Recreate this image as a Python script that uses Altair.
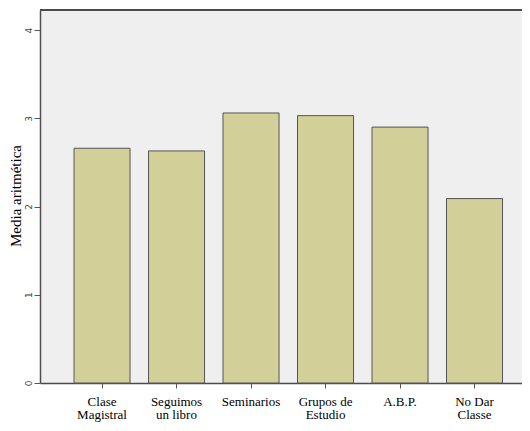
import altair as alt
import pandas as pd

categories = ["Clase\nMagistral", "Seguimos\nun libro", "Seminarios",
              "Grupos de\nEstudio", "A.B.P.", "No Dar\nClasse"]
means = [2.66, 2.63, 3.06, 3.03, 2.90, 2.09]
y_ticks = [0, 1, 2, 3, 4]

df = pd.DataFrame({"cat": categories, "mean": means})

W, H = 482, 373
YMAX = 4.227

bars = alt.Chart(df).mark_bar(
    fill="#d3cf98", stroke="#555555", strokeWidth=1
).encode(
    x=alt.X("cat:N", sort=None, title=None,
            scale=alt.Scale(paddingInner=0.248, paddingOuter=0.359, align=0.636),
            axis=alt.Axis(labelAngle=0, labelExpr="split(datum.label, '\\n')",
                          labelFont="Liberation Serif", labelFontSize=13,
                          labelColor="#000000", labelLineHeight=13.5,
                          labelBaseline="top", labelPadding=7, labelLimit=300,
                          tickSize=5, tickColor="#555555", tickWidth=1,
                          domainColor="#4d4d4d", domainWidth=1.5)),
    y=alt.Y("mean:Q",
            scale=alt.Scale(domain=[0, YMAX], nice=False, zero=True),
            axis=alt.Axis(values=y_ticks, grid=False,
                          labelAngle=270, labelAlign="center", labelBaseline="bottom",
                          labelFont="DejaVu Sans", labelFontSize=9, labelColor="#444444",
                          labelPadding=1, tickSize=6, tickColor="#555555", tickWidth=1,
                          domainColor="#4d4d4d", domainWidth=1.5,
                          title="Media aritmética", titleFont="Liberation Serif",
                          titleFontSize=15, titleFontWeight="normal", titleColor="#000000",
                          titleAngle=270, titleAlign="center", titleBaseline="alphabetic",
                          titleX=-19.5, titleY=185.5))
)

top_border = alt.Chart(df).mark_rule(color="#4d4d4d", strokeWidth=1.5).encode(
    x=alt.value(0), x2=alt.value(W), y=alt.value(0)
)

chart = alt.layer(bars, top_border).properties(
    width=W, height=H,
    background="#ffffff",
    autosize=alt.AutoSizeParams(type="none"),
    padding={"left": 32, "top": 2, "right": 0, "bottom": 40},
).configure_view(fill="#efefef", stroke="transparent")

chart.save("out.html", embed_options={"renderer": "svg", "actions": False})
